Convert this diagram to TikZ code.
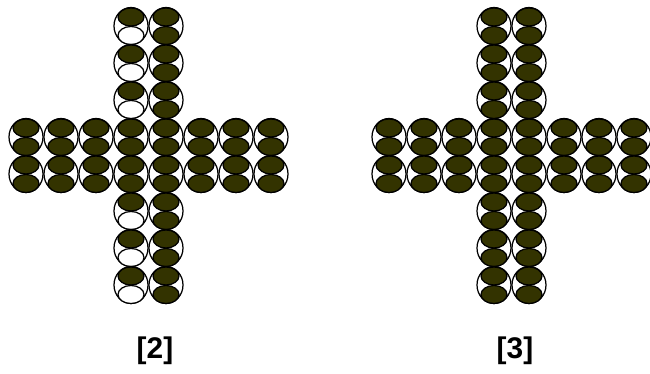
\documentclass[tikz,border=0pt]{standalone}
\usepackage{fontspec}
\setmainfont{Liberation Sans}
\definecolor{beadolive}{HTML}{333300}

% one bead: x, y, style of upper half, style of lower half
\newcommand{\bead}[4]{%
  \draw[rim] (#1,#2) ellipse [x radius=17, y radius=18.5];
  \draw[#3] (#1,#2-9) ellipse [x radius=13, y radius=9];
  \draw[#4] (#1,#2+9.5) ellipse [x radius=13, y radius=9];
}

\begin{document}
\begin{tikzpicture}[
    x=0.02cm, y=-0.02cm,
    rim/.style={draw=black, line width=0.7pt, fill=white},
    full/.style={draw=black, line width=0.7pt, fill=beadolive},
    empty/.style={draw=black, line width=0.7pt, fill=white},
    caption/.style={font=\fontsize{17}{20}\selectfont\bfseries}
]
    \useasboundingbox (0,0) rectangle (650,374);

    % Cross [2]
    \foreach \i in {0,...,7}
      \foreach \j in {0,1} {\bead{26+35*\i}{137+37*\j}{full}{full}}
    \foreach \j in {0,1,2,5,6,7} {
      \bead{131}{26+37*\j}{full}{empty}
      \bead{166}{26+37*\j}{full}{full}
    }

    % Cross [3]
    \foreach \i in {0,...,7}
      \foreach \j in {0,1} {\bead{389+35*\i}{137+37*\j}{full}{full}}
    \foreach \j in {0,1,2,5,6,7} {
      \bead{494}{26+37*\j}{full}{full}
      \bead{529}{26+37*\j}{full}{full}
    }

    % Captions
    \node[caption] (cap2) at (155,351) {[2]};
    \node[caption] (cap3) at (515,351) {[3]};
\end{tikzpicture}
\end{document}
